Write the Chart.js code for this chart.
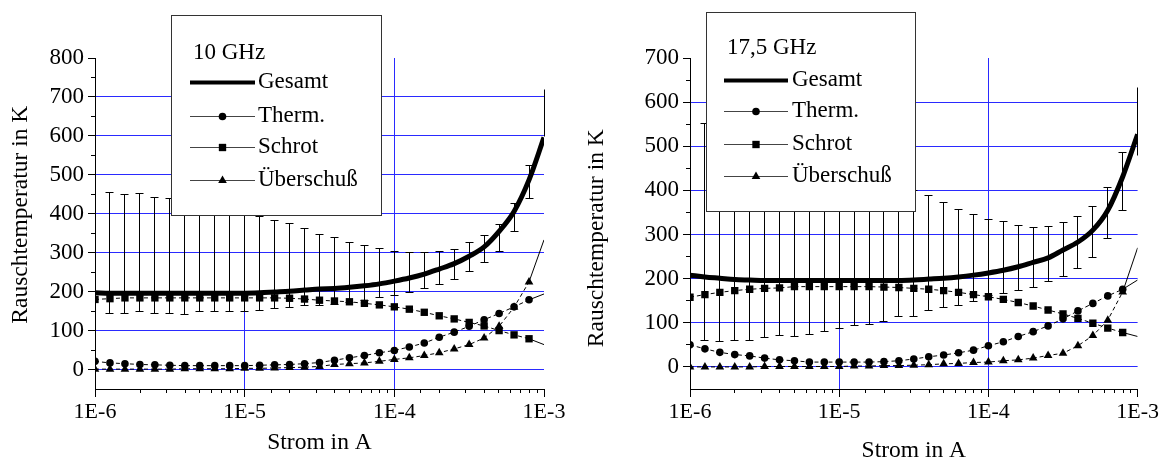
<!DOCTYPE html>
<html>
<head>
<meta charset="utf-8">
<script src="https://cdn.jsdelivr.net/npm/chart.js@4.4.1/dist/chart.umd.min.js"></script>
<style>
  html, body { margin: 0; padding: 0; background: #fff; overflow: hidden; }
  .box { position: absolute; top: 0; }
</style>
</head>
<body>
<div class="box" style="left:0;width:580px;height:461px"><canvas id="c10"></canvas></div>
<div class="box" style="left:580px;width:589px;height:470px"><canvas id="c175"></canvas></div>
<script>
// Strom in A (Messpunkte, 10 pro Dekade, letzter Punkt = Kurvenende bei 1E-3)
const strom = [
  1e-6, 1.259e-6, 1.585e-6, 1.995e-6, 2.512e-6, 3.162e-6, 3.981e-6, 5.012e-6, 6.310e-6, 7.943e-6,
  1e-5, 1.259e-5, 1.585e-5, 1.995e-5, 2.512e-5, 3.162e-5, 3.981e-5, 5.012e-5, 6.310e-5, 7.943e-5,
  1e-4, 1.259e-4, 1.585e-4, 1.995e-4, 2.512e-4, 3.162e-4, 3.981e-4, 5.012e-4, 6.310e-4, 7.943e-4,
  1e-3
];
const xTickLabels = ['1E-6', '1E-5', '1E-4', '1E-3'];

// 10 GHz
const gesamt10 = [197, 196, 196, 196, 196, 196, 196, 196, 196, 196, 196, 197, 199, 201, 204, 207, 208, 211, 215, 220,
  227, 235, 245, 258, 272, 291, 315, 355, 406, 487, 596];
const therm10 = [21, 17, 15, 13, 12, 11, 10, 10, 10, 10, 10, 11, 12, 13, 15, 18, 24, 30, 36, 43,
  49, 58, 68, 83, 96, 111, 128, 144, 161, 179, 194];
const schrot10 = [180, 182, 184, 184, 184, 184, 184, 184, 184, 184, 184, 184, 184, 183, 181, 178, 176, 174, 170, 166,
  161, 155, 147, 138, 130, 121, 112, 100, 89, 79, 64];
const ueber10 = [1, 1, 1, 1, 1, 1, 2, 2, 2, 2, 3, 3, 4, 5, 6, 8, 13, 15, 17, 21,
  26, 30, 36, 43, 53, 64, 81, 111, 160, 225, 333];
const fehlerOben10 = [null, 455, 450, 452, 443, 440, 435, 430, 425, 415, 405, 392, 383, 374, 362, 346, 338, 327, 318, 312,
  303, 301, 301, 303, 309, 325, 344, 372, 426, 524, 720];
const fehlerUnten10 = [null, 145, 145, 149, 144, 144, 141, 148, 148, 149, 150, 152, 156, 160, 164, 165, 167, 173, 178, 185,
  190, 199, 207, 218, 232, 252, 276, 303, 355, 438, 598];

// 17,5 GHz
const gesamt175 = [208, 204, 201, 198, 197, 196, 196, 196, 196, 196, 196, 196, 196, 196, 196, 197, 199, 201, 204, 208,
  213, 219, 227, 237, 247, 265, 283, 310, 355, 431, 527];
const therm175 = [50, 41, 33, 28, 25, 20, 16, 14, 11, 11, 11, 11, 11, 12, 14, 18, 23, 27, 32, 38,
  48, 57, 69, 80, 93, 109, 127, 144, 161, 176, 197];
const schrot175 = [158, 164, 169, 173, 176, 178, 179, 182, 182, 182, 182, 182, 182, 181, 180, 178, 176, 173, 169, 164,
  159, 153, 146, 138, 129, 120, 110, 99, 88, 78, 69];
const ueber175 = [0, 0, 0, 0, 0, 1, 1, 1, 1, 1, 1, 2, 2, 3, 3, 4, 5, 7, 8, 10,
  11, 14, 16, 20, 26, 31, 48, 71, 106, 170, 270];
const fehlerOben175 = [null, 552, 545, 535, 525, 515, 505, 495, 485, 475, 465, 455, 440, 425, 412, 400, 389, 373, 357, 345,
  334, 329, 320, 317, 319, 327, 340, 363, 407, 485, 633];
const fehlerUnten175 = [null, 59, 57, 61, 61, 67, 72, 70, 74, 81, 86, 94, 97, 102, 114, 115, 127, 134, 140, 148,
  161, 167, 174, 180, 193, 204, 222, 248, 290, 355, 480];

const FONT = '"Liberation Serif", "Times New Roman", serif';
const BLAU = '#2a2aff';
Chart.defaults.font.family = FONT;
Chart.defaults.font.size = 23;
Chart.defaults.color = '#000';

const istDekade = v => Math.abs(Math.log10(v) - Math.round(Math.log10(v))) < 1e-6;
const punkte = arr => arr.map((v, i) => ({ x: strom[i], y: v }));
const letzter = strom.length - 1;
// wie Chart.js: 1px-Linien auf halbe Pixel legen
const halb = p => Math.round(p - 0.5) + 0.5;

function kurve(label, werte, stil, radius) {
  return {
    label: label,
    data: punkte(werte),
    borderColor: '#000',
    borderWidth: 1,
    borderDash: [],
    pointStyle: stil,
    pointRadius: c => c.dataIndex === letzter ? 0 : radius,
    pointBackgroundColor: '#000',
    pointBorderWidth: 0,
    segment: { borderDash: c => c.p1DataIndex === letzter ? [] : [4, 3] },
    legendRadius: radius
  };
}

function diagramm(id, o) {
  const fehler = {
    id: 'fehler',
    beforeDatasetsDraw(chart) {
      const { ctx, chartArea, scales: { x, y } } = chart;
      ctx.save();
      ctx.strokeStyle = '#000';
      ctx.lineWidth = 1;
      ctx.beginPath();
      o.oben.forEach((hi, i) => {
        if (hi == null) return;
        const px = halb(x.getPixelForValue(strom[i]));
        const yt = halb(y.getPixelForValue(hi));
        const yb = halb(y.getPixelForValue(o.unten[i]));
        ctx.moveTo(px, yt); ctx.lineTo(px, yb);
        if (px < chartArea.right - 2) {
          ctx.moveTo(px - 4, yt); ctx.lineTo(px + 4, yt);
          ctx.moveTo(px - 4, yb); ctx.lineTo(px + 4, yb);
        }
      });
      ctx.stroke();
      ctx.restore();
    }
  };

  // Teilstriche: lang bei 100er / Dekaden, kurz sonst
  const striche = {
    id: 'striche',
    afterDraw(chart) {
      const { ctx, chartArea: a, scales: { x, y } } = chart;
      ctx.save();
      ctx.strokeStyle = '#000';
      ctx.lineWidth = 1;
      ctx.beginPath();
      y.ticks.forEach(t => {
        if (t.value <= y.min) return;
        const py = halb(y.getPixelForValue(t.value));
        const len = t.value % 100 === 0 ? 7 : 4;
        ctx.moveTo(a.left - len, py); ctx.lineTo(a.left, py);
      });
      x.ticks.forEach(t => {
        const px = halb(x.getPixelForValue(t.value));
        const len = istDekade(t.value) ? 8 : 4;
        ctx.moveTo(px, a.bottom); ctx.lineTo(px, a.bottom + len);
      });
      ctx.stroke();
      ctx.restore();
    }
  };

  const legende = {
    id: 'legende',
    afterDraw(chart) {
      const L = o.legende;
      const ctx = chart.ctx;
      ctx.save();
      ctx.fillStyle = '#fff';
      ctx.fillRect(L.x, L.y, L.w, L.h);
      ctx.strokeStyle = '#333';
      ctx.lineWidth = 1;
      ctx.strokeRect(L.x + 0.5, L.y + 0.5, L.w, L.h);
      ctx.font = '23px ' + FONT;
      ctx.textBaseline = 'middle';
      ctx.fillStyle = '#000';
      ctx.fillText(o.titel, L.titelX, L.titelY);
      chart.data.datasets.forEach((ds, i) => {
        const yy = L.zeilen[i] + 0.5;
        ctx.beginPath();
        ctx.moveTo(L.s0, yy); ctx.lineTo(L.s1, yy);
        ctx.lineWidth = i === 0 ? 4 : 1;
        ctx.strokeStyle = i === 0 ? '#000' : '#444';
        ctx.stroke();
        if (i > 0) {
          ctx.fillStyle = '#000';
          Chart.helpers.drawPoint(ctx, { pointStyle: ds.pointStyle, radius: ds.legendRadius, borderWidth: 0, rotation: 0 },
            (L.s0 + L.s1) / 2, yy);
        }
        ctx.fillStyle = '#000';
        ctx.fillText(ds.label, L.tx, L.zeilen[i]);
      });
      ctx.restore();
    }
  };

  return new Chart(document.getElementById(id), {
    type: 'line',
    data: {
      datasets: [
        { label: 'Gesamt', data: punkte(o.gesamt), borderColor: '#000', borderWidth: 5, pointRadius: 0,
          cubicInterpolationMode: 'monotone' },
        kurve('Therm.', o.therm, 'circle', 3.8),
        kurve('Schrot', o.schrot, 'rect', 5.2),
        kurve('Überschuß', o.ueber, 'triangle', 5)
      ]
    },
    options: {
      responsive: true,
      maintainAspectRatio: false,
      animation: false,
      events: [],
      layout: { padding: { top: 58, right: o.rechts, left: 0, bottom: 0 } },
      plugins: { legend: { display: false }, tooltip: { enabled: false } },
      scales: {
        x: {
          type: 'logarithmic',
          min: 1e-6,
          max: 1e-3,
          afterFit: s => { s.height = o.xHoehe; },
          border: { display: true, color: '#000', width: 1 },
          grid: {
            drawTicks: false,
            lineWidth: 1,
            color: c => (c.tick && istDekade(c.tick.value) && c.tick.value > 1.01e-6 && c.tick.value < 0.99e-3) ? BLAU : 'rgba(0,0,0,0)'
          },
          ticks: {
            autoSkip: false,
            maxRotation: 0,
            padding: 10,
            font: { size: 22 },
            callback: v => istDekade(v) ? xTickLabels[Math.round(Math.log10(v)) + 6] : ''
          },
          title: { display: true, text: 'Strom in A', font: { size: 23.5 }, padding: { top: 0, bottom: o.xTitelAbstand } }
        },
        y: {
          min: -50,
          max: o.yMax,
          afterFit: s => { s.width = o.yBreite; },
          border: { display: true, color: '#000', width: 1 },
          grid: {
            drawTicks: false,
            lineWidth: 1,
            color: c => (c.tick && c.tick.value >= 0 && c.tick.value < o.yMax && c.tick.value % 100 === 0) ? BLAU : 'rgba(0,0,0,0)'
          },
          ticks: {
            autoSkip: false,
            stepSize: 50,
            padding: 11,
            callback: v => (v >= 0 && v % 100 === 0) ? v : ''
          },
          title: { display: true, text: o.yTitel, font: { size: 23.5 }, padding: { top: o.yTitelAbstand, bottom: 0 } }
        }
      }
    },
    plugins: [fehler, striche, legende]
  });
}

diagramm('c10', {
  titel: '10 GHz',
  yTitel: '\u00a0\u00a0\u00a0Rauschtemperatur in K',
  gesamt: gesamt10, therm: therm10, schrot: schrot10, ueber: ueber10,
  oben: fehlerOben10, unten: fehlerUnten10,
  yMax: 800, yBreite: 95, xHoehe: 72, rechts: 36, yTitelAbstand: 7, xTitelAbstand: 4,
  legende: { x: 171, y: 15, w: 210, h: 200, titelX: 193, titelY: 53, s0: 190, s1: 255, tx: 258, zeilen: [82, 116, 147, 180] }
});

diagramm('c175', {
  titel: '17,5 GHz',
  yTitel: 'Rauschtemperatur in K\u00a0\u00a0\u00a0\u00a0\u00a0',
  gesamt: gesamt175, therm: therm175, schrot: schrot175, ueber: ueber175,
  oben: fehlerOben175, unten: fehlerUnten175,
  yMax: 700, yBreite: 110, xHoehe: 81, rechts: 30, yTitelAbstand: 3, xTitelAbstand: 5,
  legende: { x: 126, y: 12, w: 209, h: 199, titelX: 147, titelY: 48, s0: 144, s1: 208, tx: 212, zeilen: [80, 111, 144, 176] }
});
</script>
</body>
</html>
